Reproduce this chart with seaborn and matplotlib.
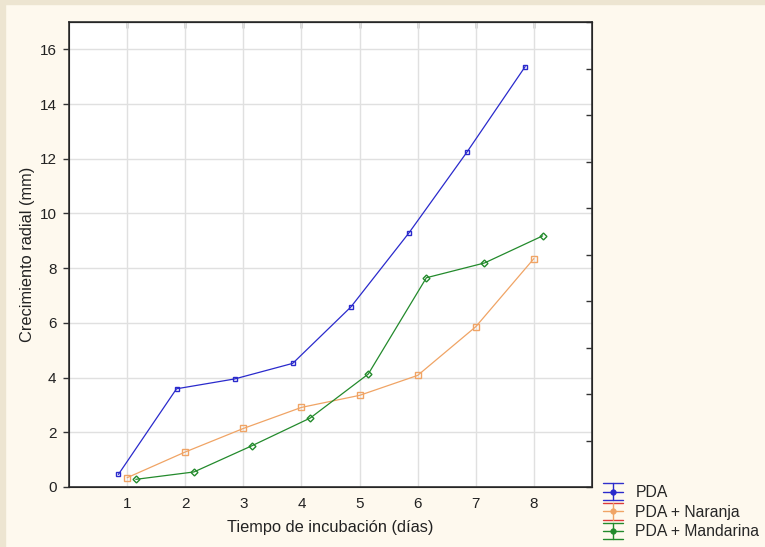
import matplotlib
matplotlib.use('Agg')
import matplotlib.pyplot as plt
import seaborn as sns
import pandas as pd
from matplotlib.lines import Line2D
from matplotlib.legend_handler import HandlerBase
from matplotlib.patches import Rectangle

# values
days = [1, 2, 3, 4, 5, 6, 7, 8]
pda = [0.46, 3.59, 3.95, 4.52, 6.58, 9.29, 12.25, 15.37]
naranja = [0.34, 1.28, 2.14, 2.91, 3.35, 4.08, 5.86, 8.35]
mandarina = [0.28, 0.55, 1.51, 2.52, 4.13, 7.65, 8.19, 9.18]
labels = ['PDA', 'PDA + Naranja', 'PDA + Mandarina']

colors = ['#2a2acc', '#f0a465', '#238a2c']
cap_colors = ['#3030cc', '#dd3a3a', '#238a2c']
markers = ['s', 's', 'D']
msizes = [3.5, 5, 3.5]
offsets = [-0.15, 0.0, 0.15]  # statistica style dodge

sns.set_style('white')
plt.rcParams['font.family'] = ['Liberation Sans', 'DejaVu Sans']

fig = plt.figure(figsize=(7.65, 5.47), dpi=100, facecolor='#fef9ee')
# beige frame strips like the original screenshot
fig.patches.append(Rectangle((0, 0), 5 / 765, 1, transform=fig.transFigure,
                             color='#ede5d1', zorder=0))
fig.patches.append(Rectangle((0, 1 - 4 / 547), 1, 4 / 547, transform=fig.transFigure,
                             color='#ede5d1', zorder=0))

ax = fig.add_axes([69 / 765, 1 - 487 / 547, (592 - 69) / 765, (487 - 22) / 547])
ax.set_facecolor('white')

for vals, lab, c, m, ms, off in zip([pda, naranja, mandarina], labels, colors,
                                    markers, msizes, offsets):
    df = pd.DataFrame({'x': [d + off for d in days], 'y': vals})
    sns.lineplot(data=df, x='x', y='y', ax=ax, color=c, linewidth=0.9,
                 marker=m, markersize=ms, markerfacecolor='none',
                 markeredgecolor=c, markeredgewidth=1.0, legend=False, zorder=3)

ax.set_xlim(0, 9)
ax.set_ylim(0, 17)
ax.set_xticks(days)
ax.set_yticks(range(0, 17, 2))
ax.grid(True, color='#e0e0e0', linewidth=1.0)
ax.set_axisbelow(True)
for s in ax.spines.values():
    s.set_color('#333333')
    s.set_linewidth(1.2)
ax.tick_params(axis='both', direction='out', length=4, width=1, color='#333333',
               labelsize=11, labelcolor='#222222', pad=5)
ax.tick_params(axis='x', pad=3.5)
ax.set_xlabel('Tiempo de incubación (días)', fontsize=11.8, color='#222222', labelpad=6)
ax.set_ylabel('Crecimiento radial (mm)', fontsize=11.8, color='#222222', labelpad=3)

top = ax.secondary_xaxis('top')
top.set_xticks(days)
top.tick_params(direction='in', length=4, width=1, color='#333333', labeltop=False)

right = ax.twinx()
right.set_ylim(0, 10)
right.set_yticks(range(0, 11))
right.tick_params(direction='in', length=4, width=1, color='#333333', labelright=False)
right.grid(False)


class StatHandler(HandlerBase):
    def create_artists(self, legend, orig, xd, yd, width, height, fontsize, trans):
        c = orig.get_color()
        cap = orig.get_markeredgecolor()
        ymid = height / 2 - yd
        h = 6
        arts = []
        for yy, cc in ((ymid - h, cap), (ymid, c), (ymid + h, cap)):
            arts.append(Line2D([-xd, width - xd], [yy, yy], color=cc, lw=1.0, transform=trans))
        arts.append(Line2D([width / 2 - xd] * 2, [ymid - h, ymid + h], color=c, lw=1.0,
                           transform=trans))
        arts.append(Line2D([width / 2 - xd], [ymid], marker='o', markersize=3.5,
                           color=c, markerfacecolor=c, transform=trans))
        return arts


handles = [Line2D([], [], color=c, marker='o', markeredgecolor=cc)
           for c, cc in zip(colors, cap_colors)]
fig.legend(handles, labels, loc='lower left', bbox_to_anchor=(589 / 765, -0.012),
           frameon=False, fontsize=11.3, handlelength=1.25, handletextpad=0.8,
           labelspacing=0.3, handler_map={Line2D: StatHandler()})

fig.savefig('out.png', dpi=100, facecolor=fig.get_facecolor())
